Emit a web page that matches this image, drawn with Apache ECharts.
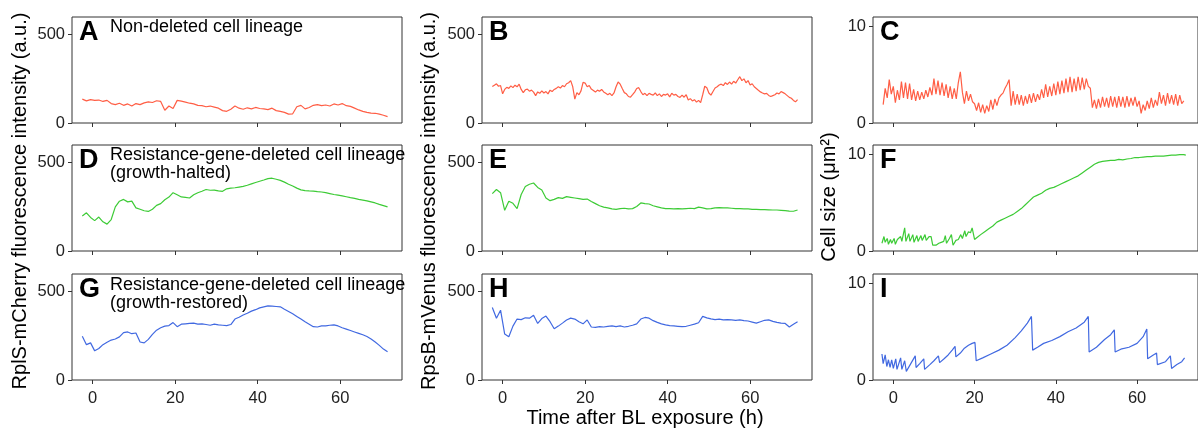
<!DOCTYPE html>
<html>
<head>
<meta charset="utf-8">
<script src="https://cdn.jsdelivr.net/npm/echarts@6/dist/echarts.min.js"></script>
<style>
	html, body { margin: 0; padding: 0; background: #fff; }
	#chartContainer { width: 1198px; height: 431px; }
</style>
</head>
<body>
<div id="chartContainer"></div>
<script>
// 均匀采样的起点(h)
var tStart = -2.5;

// A: 未缺失细胞 RplS-mCherry, 1h
var valA = [135,125,132,128,130,122,128,110,104,112,100,108,96,110,104,114,120,116,126,122,
	72,96,82,128,124,118,112,108,100,98,92,96,90,84,70,66,78,96,84,78,
	86,80,88,82,80,76,84,70,66,60,50,52,92,100,80,88,100,104,98,102,
	96,108,102,110,98,94,84,74,66,60,56,55,50,44,36];
// B: 未缺失细胞 RpsB-mVenus, 0.5h
var valB = [206,214,222,208,212,165,190,202,196,210,200,214,205,220,190,172,188,192,180,186,
	175,155,176,168,182,170,178,165,186,178,190,196,205,198,212,205,222,228,240,205,
	135,172,160,182,230,226,205,212,192,184,175,186,180,190,176,168,160,168,155,170,
	205,232,220,195,172,165,150,146,160,175,195,200,178,160,168,155,168,162,158,170,
	155,165,150,162,158,165,148,168,158,162,150,145,158,146,160,130,138,125,132,118,
	128,115,160,208,200,170,158,178,198,205,215,220,212,228,218,232,220,236,226,245,
	262,240,250,228,240,215,222,205,195,185,176,170,165,168,156,150,155,160,170,165,
	178,172,165,155,145,140,128,120,132];
// C: 未缺失细胞 细胞大小, 0.5h
var valC = [1.9,3.6,2.6,4.5,3.0,3.8,2.1,3.4,2.4,4.3,2.6,4.2,2.5,4.1,2.4,3.5,2.3,3.3,2.4,3.2,
	2.5,3.4,2.7,3.7,2.9,4.6,3.0,4.4,2.9,4.2,2.8,4.0,2.6,3.8,2.5,3.6,2.5,4.2,5.3,3.2,
	2.0,3.3,2.3,3.0,2.2,2.0,1.3,2.1,1.1,1.9,1.0,1.8,1.2,2.4,1.4,2.5,1.8,2.6,2.9,3.1,
	3.6,4.0,4.5,1.8,3.3,1.9,3.0,1.9,2.9,1.8,2.8,2.0,3.0,2.1,3.1,2.2,3.0,2.4,3.5,2.6,
	4.0,2.7,3.8,2.8,4.1,2.9,4.3,3.0,4.4,3.1,4.6,3.2,4.8,3.2,4.6,3.3,4.8,3.4,4.7,3.5,
	4.6,3.8,3.6,1.6,2.4,1.5,2.5,1.6,2.7,1.7,2.6,1.6,2.8,1.7,2.7,1.6,2.8,1.7,2.7,1.6,
	2.8,1.7,2.6,1.8,2.7,1.7,2.3,1.0,1.9,1.3,2.3,1.5,2.6,1.6,2.4,1.8,3.2,2.0,2.9,1.8,
	3.1,2.0,2.9,1.9,3.0,1.8,2.9,2.0,2.3];
// D: 缺失细胞(生长停止) RplS-mCherry, 1h
var valD = [198,216,190,172,192,165,152,178,250,282,292,278,282,244,236,228,224,236,258,268,
	290,305,330,318,306,304,300,318,330,338,348,344,345,340,338,352,356,358,362,366,
	372,380,388,395,402,410,412,406,400,390,378,368,356,346,342,340,339,336,334,330,
	325,320,316,312,307,302,298,292,288,284,278,272,264,257,250];
// E: 缺失细胞(生长停止) RpsB-mVenus, 1h
var valE = [325,348,330,230,282,270,240,320,365,378,385,360,345,300,285,292,302,298,308,304,
	300,296,292,294,280,268,256,248,244,238,236,240,242,238,240,252,272,268,266,256,
	250,244,240,240,238,240,238,240,242,240,248,244,238,240,244,246,244,244,242,240,
	240,238,238,236,236,234,234,233,232,232,230,228,226,225,232];
// F: 缺失细胞(生长停止) 细胞大小
var timeF = [-2.8,-2.3,-2.0,-1.5,-1.2,-0.7,-0.4,0.2,0.5,1.0,1.4,1.8,2.1,2.8,3.1,3.8,4.1,4.8,5.1,5.8,
	6.1,6.8,7.1,7.8,8.1,8.8,9.3,9.7,10.5,11.2,11.8,12.4,12.8,13.1,13.8,14.3,14.7,15.4,16.0,16.6,
	17.0,17.6,17.9,18.5,19.0,19.4,20.0,20.6,21.5,22.5,23.5,24.5,25.5,26.5,27.5,28.5,29.5,30.5,31.5,32.5,
	33.5,34.5,35.5,36.5,37.5,38.5,39.5,40.5,41.5,42.5,43.5,44.5,45.5,46.5,47.5,48.5,49.5,50.5,51.5,52.5,
	53.5,54.5,55.5,56.5,57.5,58.5,59.5,60.5,61.5,62.5,63.5,64.5,65.5,66.5,67.5,68.5,69.5,70.5,71.5,72.0];
var valF = [0.8,1.5,0.9,1.3,0.7,1.2,0.8,1.3,0.7,1.2,1.0,1.5,1.0,2.4,1.0,1.8,1.0,1.7,0.9,1.6,
	1.0,1.6,1.1,1.7,1.1,1.5,1.5,0.6,0.6,0.8,0.9,1.0,1.6,0.8,1.3,1.7,0.6,1.1,1.2,1.7,
	1.3,2.1,1.5,2.0,1.9,2.4,1.2,1.4,1.7,2.0,2.3,2.6,3.0,3.2,3.4,3.6,3.8,4.1,4.4,4.8,
	5.2,5.6,5.8,6.0,6.3,6.5,6.6,6.8,7.0,7.2,7.4,7.6,7.8,8.1,8.4,8.7,9.0,9.2,9.3,9.35,
	9.4,9.4,9.5,9.45,9.55,9.6,9.7,9.7,9.75,9.8,9.8,9.85,9.85,9.85,9.9,9.95,9.95,10.0,10.0,9.95];
// G: 缺失细胞(生长恢复) RplS-mCherry, 1h
var valG = [248,200,210,165,178,200,214,226,232,244,268,272,262,266,215,210,230,258,282,296,
	305,308,325,302,316,318,320,322,316,318,314,310,316,312,310,308,314,345,355,368,
	378,390,398,408,414,420,418,416,414,400,388,375,360,345,330,316,302,300,306,306,
	310,312,306,296,288,280,272,264,256,246,232,215,196,175,160];
// H: 缺失细胞(生长恢复) RpsB-mVenus, 1h
var valH = [410,350,395,260,245,305,345,342,352,350,366,320,348,362,330,290,305,322,340,350,
	345,330,318,340,300,298,302,300,304,306,302,306,300,304,310,318,345,354,350,336,
	326,318,312,308,306,304,302,304,310,316,324,360,352,346,342,345,340,342,340,338,
	340,336,334,328,322,330,338,340,332,326,322,320,300,316,330];
// I: 缺失细胞(生长恢复) 细胞大小
var timeI = [-2.8,-2.5,-2.0,-1.6,-1.2,-0.8,-0.4,0.0,0.6,0.9,1.8,2.1,2.8,3.2,4.3,5.4,5.6,6.5,7.5,7.7,
	9.0,10.0,11.1,11.4,12.5,13.5,14.5,15.2,15.4,16.5,17.5,18.5,19.4,20.1,20.4,22.0,24.0,26.0,28.0,30.0,
	31.5,33.0,34.0,34.3,35.5,37.0,39.0,41.0,43.0,45.0,47.0,48.0,48.2,50.0,52.0,53.5,54.4,54.6,56.0,58.0,
	60.0,61.5,62.4,62.6,64.0,64.8,65.0,67.0,68.2,68.5,69.8,71.0,71.7];
var valI = [2.7,1.7,2.6,1.4,2.1,1.3,2.1,1.2,2.2,1.1,2.3,1.1,2.0,0.9,1.7,2.5,1.3,1.7,2.2,1.1,
	1.6,2.0,2.5,1.8,2.2,2.6,3.1,3.5,2.4,2.8,3.3,3.6,3.8,3.9,2.0,2.3,2.7,3.1,3.6,4.4,
	5.1,5.9,6.6,3.1,3.4,3.8,4.1,4.5,5.0,5.4,6.0,6.6,2.9,3.4,4.2,4.7,5.2,2.9,3.2,3.4,
	3.8,4.5,5.3,2.2,2.6,2.8,1.6,1.9,2.5,1.2,1.6,1.9,2.3];

var xTicks = [0, 20, 40, 60];
var yTicksInt = [0, 500];
var yTicksSize = [0, 10];
var panelLetters = ['A','B','C','D','E','F','G','H','I'];

var colorRed = '#ff5e45';
var colorGreen = '#3dcb36';
var colorBlue = '#4169e1';

var cellChart = {
	fontName : '"Liberation Sans", Arial, sans-serif',

	/**
	 * 均匀时间序列转成 [t, v]
	 */
	evenPairs : function(step, values){
		var out = [];
		for (var i = 0; i < values.length; i++) {
			out.push([tStart + i * step, values[i]]);
		}
		return out;
	},

	/**
	 * 时间数组与数值数组合并
	 */
	zipPairs : function(times, values){
		var out = [];
		for (var i = 0; i < values.length; i++) {
			out.push([times[i], values[i]]);
		}
		return out;
	},

	showChart : function(){
		var myChart = echarts.init(document.getElementById('chartContainer'), null, {renderer: 'canvas'});
		var self = this;
		var lefts = [72, 482, 873];
		var tops = [17, 145, 274];
		var panels = [
			{data: self.evenPairs(1, valA), color: colorRed, max: 600, ticks: yTicksInt},
			{data: self.evenPairs(0.5, valB), color: colorRed, max: 600, ticks: yTicksInt},
			{data: self.evenPairs(0.5, valC), color: colorRed, max: 11, ticks: yTicksSize},
			{data: self.evenPairs(1, valD), color: colorGreen, max: 600, ticks: yTicksInt},
			{data: self.evenPairs(1, valE), color: colorGreen, max: 600, ticks: yTicksInt},
			{data: self.zipPairs(timeF, valF), color: colorGreen, max: 11, ticks: yTicksSize},
			{data: self.evenPairs(1, valG), color: colorBlue, max: 600, ticks: yTicksInt},
			{data: self.evenPairs(1, valH), color: colorBlue, max: 600, ticks: yTicksInt},
			{data: self.zipPairs(timeI, valI), color: colorBlue, max: 11, ticks: yTicksSize}
		];
		var grid = [], xAxis = [], yAxis = [], series = [], graphic = [];
		for (var i = 0; i < panels.length; i++) {
			var row = Math.floor(i / 3), col = i % 3;
			grid.push({
				left: lefts[col], top: tops[row], width: 330, height: 106,
				show: true, borderColor: '#333', borderWidth: 1, backgroundColor: 'transparent'
			});
			xAxis.push({
				type: 'value', gridIndex: i, min: -5, max: 75,
				axisLine: {show: false, onZero: false},
				axisTick: {show: true, length: 4, customValues: xTicks, lineStyle: {color: '#333'}},
				axisLabel: {show: row == 2, customValues: xTicks, fontSize: 16.5, color: '#222', margin: 10, fontFamily: self.fontName},
				splitLine: {show: false}
			});
			yAxis.push({
				type: 'value', gridIndex: i, min: 0, max: panels[i].max,
				axisLine: {show: false, onZero: false},
				axisTick: {show: true, length: 4, customValues: panels[i].ticks, lineStyle: {color: '#333'}},
				axisLabel: {show: true, customValues: panels[i].ticks, fontSize: 16.5, color: '#222', margin: 7, fontFamily: self.fontName},
				splitLine: {show: false}
			});
			series.push({
				type: 'line', xAxisIndex: i, yAxisIndex: i,
				data: panels[i].data, showSymbol: false, symbol: 'none',
				lineStyle: {color: panels[i].color, width: 1.2},
				animation: false
			});
			graphic.push({
				type: 'text', left: lefts[col] + 7, top: tops[row] + 2,
				style: {text: panelLetters[i], font: 'bold 27px ' + self.fontName, fill: '#000'}
			});
		}

		// 小标题
		var subFont = '18px ' + self.fontName;
		graphic.push({type: 'text', left: 110, top: 18, style: {text: 'Non-deleted cell lineage', font: subFont, fill: '#000'}});
		graphic.push({type: 'text', left: 110, top: 146, style: {text: 'Resistance-gene-deleted cell lineage\n(growth-halted)', font: subFont, fill: '#000', lineHeight: 18}});
		graphic.push({type: 'text', left: 110, top: 276, style: {text: 'Resistance-gene-deleted cell lineage\n(growth-restored)', font: subFont, fill: '#000', lineHeight: 18}});

		// 坐标轴标题
		var titleFont = '20px ' + self.fontName;
		graphic.push({type: 'text', x: 20, y: 201, rotation: Math.PI / 2,
			style: {text: 'RplS-mCherry fluorescence intensity (a.u.)', font: titleFont, fill: '#000', textAlign: 'center', textVerticalAlign: 'middle'}});
		graphic.push({type: 'text', x: 429, y: 201, rotation: Math.PI / 2,
			style: {text: 'RpsB-mVenus fluorescence intensity (a.u.)', font: titleFont, fill: '#000', textAlign: 'center', textVerticalAlign: 'middle'}});
		graphic.push({type: 'text', x: 829, y: 197, rotation: Math.PI / 2,
			style: {text: 'Cell size (\u03bcm\u00b2)', font: titleFont, fill: '#000', textAlign: 'center', textVerticalAlign: 'middle'}});
		graphic.push({type: 'text', x: 645, y: 418,
			style: {text: 'Time after BL exposure (h)', font: titleFont, fill: '#000', textAlign: 'center', textVerticalAlign: 'middle'}});

		var option = {
			backgroundColor: '#fff',
			animation: false,
			grid: grid,
			xAxis: xAxis,
			yAxis: yAxis,
			series: series,
			graphic: graphic
		};
		myChart.setOption(option);
	}
};

cellChart.showChart();
</script>
</body>
</html>
